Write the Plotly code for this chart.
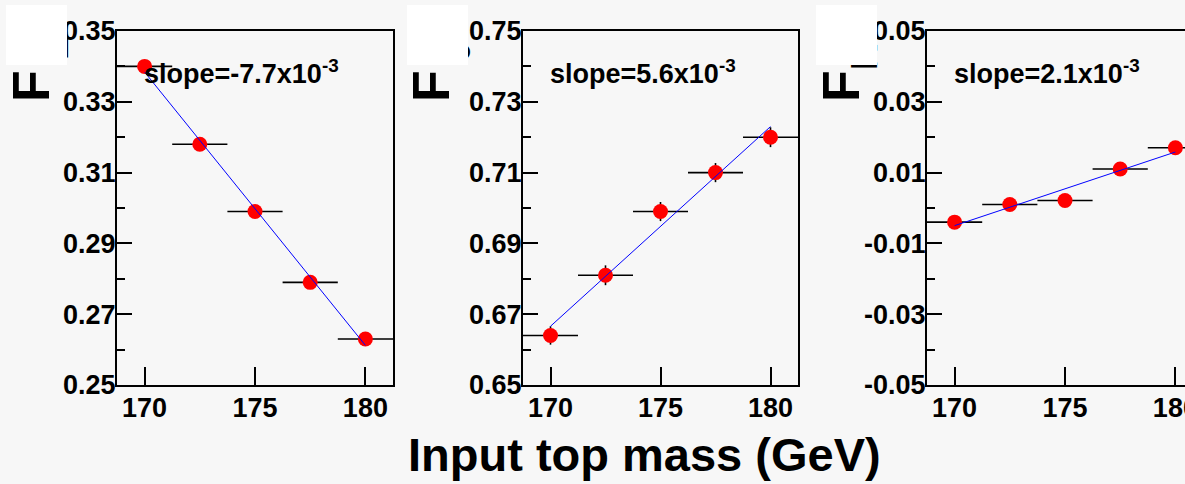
import numpy as np
import plotly.graph_objects as go

W, H = 1185, 484

# ---------------- data ----------------
mass = [170.0, 172.5, 175.0, 177.5, 180.0]
bin_half_width = [1.25, 1.25, 1.25, 1.25, 1.25]

f_minus = [0.340, 0.318, 0.299, 0.279, 0.263]
f_minus_err = [0.0015, 0.0015, 0.0015, 0.0015, 0.0015]

f_zero = [0.664, 0.681, 0.699, 0.710, 0.720]
f_zero_err = [0.0026, 0.0028, 0.0027, 0.0027, 0.0028]

f_plus = [-0.0040, 0.0010, 0.0021, 0.0110, 0.0170]
f_plus_err = [0.0015, 0.0015, 0.0015, 0.0015, 0.0015]

y_title_main = ["F", "F", "F"]
y_title_sub = ["L", "0", "R"]
slope_labels = ["slope=-7.7x10<sup>-3</sup>",
                "slope=5.6x10<sup>-3</sup>",
                "slope=2.1x10<sup>-3</sup>"]
y_ranges = [[0.25, 0.35], [0.65, 0.75], [-0.05, 0.05]]
y_tick_values = [[0.25, 0.27, 0.29, 0.31, 0.33, 0.35],
                 [0.65, 0.67, 0.69, 0.71, 0.73, 0.75],
                 [-0.05, -0.03, -0.01, 0.01, 0.03, 0.05]]
y_tick_labels = [["0.25", "0.27", "0.29", "0.31", "0.33", "0.35"],
                 ["0.65", "0.67", "0.69", "0.71", "0.73", "0.75"],
                 ["-0.05", "-0.03", "-0.01", "0.01", "0.03", "0.05"]]
x_tickvals = [170, 175, 180]
x_full_range = [168.75, 181.25]
x_title = "Input top mass (GeV)"

series = [(f_minus, f_minus_err), (f_zero, f_zero_err), (f_plus, f_plus_err)]

# ---------------- layout geometry (pixels) ----------------
panel_left = [117, 523, 927]
panel_right = [393, 798, 1203]
plot_top, plot_bottom = 31, 385
white_boxes = [(6, 5, 61, 60), (407, 5, 61, 60), (816, 5, 61, 60)]
title_origin = [0, 400, 810]
sub_start_y = [62, 64, 72]     # where the (mostly hidden) subscript starts
sub_center_x = [55, 57, 55]

FONT = "Liberation Sans, Arial, Helvetica, sans-serif"
BG = "#f7f7f7"
TICK_SIZE = 27

def px(x):
    return x / W

def py(y):
    return 1 - y / H

fig = go.Figure()
annotations = []

for i, ((vals, errs), yr) in enumerate(zip(series, y_ranges)):
    n = "" if i == 0 else str(i + 1)
    xa, ya = "x" + n, "y" + n
    # data points
    fig.add_trace(go.Scatter(
        x=mass, y=vals, mode="markers", xaxis=xa, yaxis=ya,
        marker=dict(color="#ff0000", size=15, line=dict(width=0)),
        error_x=dict(type="data", array=bin_half_width, color="black",
                     thickness=1.6, width=0),
        error_y=dict(type="data", array=errs, color="black",
                     thickness=1.6, width=0),
        showlegend=False, cliponaxis=True))
    # linear fit over 170-180
    p = np.polyfit(mass, vals, 1)
    fx = [mass[0], mass[-1]]
    fy = list(np.polyval(p, fx))
    fig.add_trace(go.Scatter(
        x=fx, y=fy, mode="lines", xaxis=xa, yaxis=ya,
        line=dict(color="#0000ff", width=1), showlegend=False))

    left, right = panel_left[i], panel_right[i]
    vis_right = min(right, W)
    span = x_full_range[1] - x_full_range[0]
    xr = [x_full_range[0], x_full_range[0] + (vis_right - left) / (right - left) * span]

    fig.layout["xaxis" + n] = dict(
        domain=[px(left), px(vis_right)], range=xr, anchor=ya,
        automargin=False,
        showline=True, linecolor="black", linewidth=2, mirror=True,
        ticks="inside", ticklen=18, tickwidth=2, tickcolor="black",
        tickvals=x_tickvals, showgrid=False, zeroline=False,
        ticklabeloverflow="allow", ticklabelstandoff=-2,
        tickfont=dict(family=FONT, size=TICK_SIZE, color="black", weight="bold"))
    fig.layout["yaxis" + n] = dict(
        domain=[py(plot_bottom), py(plot_top)], range=yr, anchor=xa,
        automargin=False,
        showline=True, linecolor="black", linewidth=2, mirror=(i < 2),
        ticks="inside", ticklen=15, tickwidth=2, tickcolor="black",
        tickmode="array", tickvals=y_tick_values[i], ticktext=y_tick_labels[i],
        minor=dict(ticks="inside", ticklen=8, tickwidth=2, tickcolor="black",
                   tickmode="linear", tick0=yr[0], dtick=0.01),
        showgrid=False, zeroline=False, ticklabeloverflow="allow",
        ticklabelstandoff=-6,
        tickfont=dict(family=FONT, size=TICK_SIZE, color="black", weight="bold"))

    # slope label
    annotations.append(dict(
        text=slope_labels[i], xref="paper", yref="paper",
        x=px(left + 25), y=py(72), xanchor="left", yanchor="middle",
        showarrow=False,
        font=dict(family=FONT, size=27, color="black", weight="bold")))

# y titles (rotated), then white boxes on top of them
for i in range(3):
    ox = title_origin[i]
    annotations.append(dict(
        text=y_title_main[i], xref="paper", yref="paper",
        x=px(ox + 31), y=py(104), xanchor="center", yanchor="bottom",
        textangle=-90, showarrow=False,
        font=dict(family=FONT, size=52, color="black", weight="bold")))
    annotations.append(dict(
        text=y_title_sub[i], xref="paper", yref="paper",
        x=px(ox + sub_center_x[i]), y=py(sub_start_y[i]),
        xanchor="center", yanchor="bottom",
        textangle=-90, showarrow=False,
        font=dict(family=FONT, size=36, color="black", weight="bold")))
for (bx, by, bw, bh) in white_boxes:
    annotations.append(dict(
        text=" ", xref="paper", yref="paper", x=px(bx), y=py(by),
        xanchor="left", yanchor="top", width=bw, height=bh,
        bgcolor="white", borderpad=0, borderwidth=0, showarrow=False,
        font=dict(size=10)))

# x title
annotations.append(dict(
    text=x_title, xref="paper", yref="paper", x=px(644), y=py(454),
    xanchor="center", yanchor="middle", showarrow=False,
    font=dict(family=FONT, size=47, color="black", weight="bold")))

fig.update_layout(
    width=W, height=H, margin=dict(l=0, r=0, t=0, b=0),
    paper_bgcolor=BG, plot_bgcolor=BG, annotations=annotations,
    font=dict(family=FONT, size=24, color="black", weight="bold"),
    showlegend=False)

fig.write_html("out.html")
